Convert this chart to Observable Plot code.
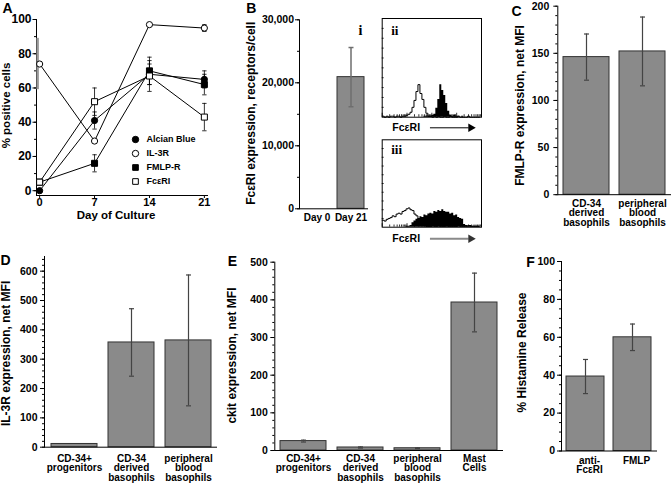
<!DOCTYPE html>
<html><head><meta charset="utf-8">
<script src="https://cdn.jsdelivr.net/npm/d3@7"></script>
<script src="https://cdn.jsdelivr.net/npm/@observablehq/plot@0.6"></script>
<style>
html,body{margin:0;padding:0;background:#fff;}
#fig{position:relative;width:672px;height:486px;overflow:hidden;background:#fff;}
#fig svg{position:absolute;}
</style></head><body><div id="fig"></div>
<script>
// ---------- Panel A data ----------
const cultureDays = [0, 7, 14, 21];
const seriesNames = ["Alcian Blue", "IL-3R", "FMLP-R", "FcεRI"];
const alcianBluePct = [0, 41, 68, 65];
const alcianBlueErr = [0, 5, 6, 5];
const il3rPct = [74, 29, 97, 95];
const il3rPctErr = [15, 0, 0, 2];
const fmlprPct = [5, 16, 70, 62];
const fmlprPctErr = [0, 5, 8, 6];
const fceriPct = [5, 52, 67, 43];
const fceriPctErr = [0, 8, 9, 8];
const dayTicks = [0, 7, 14, 21];
const pctTicks = [0, 20, 40, 60, 80, 100];

// ---------- Panel B data ----------
const receptorDays = ["Day 0", "Day 21"];
const receptorsPerCell = [0, 20900];
const receptorsErr = [0, 4700];
const receptorTicks = [0, 10000, 20000, 30000];

// flow histograms (ii, iii): event counts per channel bin, % of panel height
const histIIOpen = [1,0,1,0,1,1,0,1,1,0,1,1,2,3,5,10,17,26,33,24,18,10,4,1,1,0,1,0,1,0,0,1,0,0,1,0,0,0,1,0,0,0,0,1,0,0,0,0,0,0];
const histIIFilled = [0,0,0,0,0,0,0,0,0,0,0,0,0,0,0,0,0,0,0,0,0,1,1,1,1,2,3,9,18,33,27,22,14,6,2,1,2,1,1,0,1,0,0,0,0,0,0,0,0,0];
const histIIIOpen = [8,7,9,10,11,13,12,15,16,15,18,19,21,22,20,19,15,13,9,6,3,2,1,1,1,2,1,1,2,1,1,1,2,1,1,1,1,1,2,1,1,1,1,2,1,1,1,1,1,1];
const histIIIFilled = [0,0,0,0,0,0,0,0,0,0,0,0,1,1,2,5,7,9,10,12,11,14,13,15,16,15,18,17,19,18,20,18,17,17,15,16,13,14,11,10,9,3,2,1,2,1,1,1,1,0];

// ---------- Panel C data ----------
const fmlpCategories = ["CD-34\nderived\nbasophils", "peripheral\nblood\nbasophils"];
const fmlpMfi = [146, 152];
const fmlpMfiErr = [24.5, 36.5];

// ---------- Panel D data ----------
const il3rCategories = ["CD-34+\nprogenitors", "CD-34\nderived\nbasophils", "peripheral\nblood\nbasophils"];
const il3rMfi = [11, 357, 364];
const il3rMfiErr = [0, 115, 223];

// ---------- Panel E data ----------
const ckitCategories = ["CD-34+\nprogenitors", "CD-34\nderived\nbasophils", "peripheral\nblood\nbasophils", "Mast\nCells"];
const ckitMfi = [25, 8, 6, 393];
const ckitMfiErr = [2.5, 1.5, 1, 78];

// ---------- Panel F data ----------
const histamineCategories = ["anti-\nFcεRI", "FMLP"];
const histamineRelease = [39.3, 60];
const histamineErr = [9, 7];

// ---------- helpers ----------
const FONT = '"Liberation Sans", Arial, Helvetica, sans-serif';
const SERIF = '"Liberation Serif", "Times New Roman", serif';
const BAR_FILL = "#8a8a8a", BAR_STROKE = "#333";
const baseStyle = {fontFamily: FONT, fontSize: "10.5px", color: "black", background: "transparent", overflow: "visible"};
const capSymbol = {draw(ctx, size) { const w = Math.sqrt(size / Math.PI); ctx.moveTo(-w, 0); ctx.lineTo(w, 0); }};
const fig = document.getElementById("fig");
function place(svg, left, top) { svg.style.left = left + "px"; svg.style.top = top + "px"; fig.appendChild(svg); }
function capsOf(rows) { return rows.flatMap(d => [{...d, cy: d.lo}, {...d, cy: d.hi}]); }
const range = (a, b, s) => d3.range(a, b + s / 2, s);

function letterMark(letter, x, y, ml, mt) {
  return Plot.text([letter], {text: d => d, frameAnchor: "top-left", dx: x - ml, dy: y - mt, fontSize: 14, fontWeight: "bold", textAnchor: "middle", lineAnchor: "middle"});
}
function yLabelMark(label, dx, dy, size = 12) {
  return Plot.text([label], {text: d => d, frameAnchor: "left", rotate: -90, dx, dy, fontSize: size, fontWeight: "bold", textAnchor: "middle", lineAnchor: "middle"});
}

function barPanel(o) {
  const rows = o.cats.map((c, i) => ({c, v: o.values[i], e: o.errs[i], lo: o.values[i] - o.errs[i], hi: o.values[i] + o.errs[i]}));
  const errRows = rows.filter(d => d.e > 0);
  return Plot.plot({
    width: o.width, height: o.height, marginLeft: o.ml, marginRight: o.mr, marginTop: o.mt, marginBottom: o.mb,
    style: baseStyle,
    x: {type: "band", domain: o.cats, paddingInner: o.pi, paddingOuter: o.po, axis: null},
    y: {domain: o.yDomain, axis: null},
    marks: [
      Plot.barY(rows.filter(d => d.v > 0), {x: "c", y: "v", fill: BAR_FILL, stroke: BAR_STROKE, strokeWidth: 1}),
      Plot.ruleX(errRows, {x: "c", y1: "lo", y2: "hi", stroke: o.errColor || "#444", strokeWidth: o.errWidth || 1.2}),
      Plot.dot(capsOf(errRows), {x: "c", y: "cy", symbol: capSymbol, r: 2.5, stroke: o.errColor || "#444", fill: "none", strokeWidth: o.errWidth || 1.2}),
      Plot.axisY({ticks: o.minor, tickSize: 2, tickFormat: () => "", label: null}),
      Plot.axisY({ticks: o.major, tickSize: 4, tickPadding: o.tp || 3, label: null, fontSize: 10.5, fontWeight: "bold", tickFormat: o.fmt || (d => String(d))}),
      Plot.axisX({tickSize: 0, tickPadding: o.catPad, label: null, lineHeight: o.lh || 0.95, fontSize: 10, fontWeight: "bold", dx: o.catDx || 0}),
      Plot.frame({anchor: "left"}),
      Plot.ruleY([o.yDomain[0]]),
      yLabelMark(o.yLabel, o.ldx, o.ldy),
      letterMark(o.letter, o.lx, o.ly, o.ml, o.mt),
      ...(o.extra || [])
    ]
  });
}

function histPanel(o) {
  const bins = o.open.map((v, i) => ({bin: i, open: v, filled: o.filled[i]}));
  const logTicks = d3.range(0, 4).flatMap(dec => d3.range(1, 10).map(k => ({x: (dec + Math.log10(k)) * 12.5, len: k === 1 ? 4 : 2.5})));
  return Plot.plot({
    width: o.width, height: o.height, marginLeft: o.ml, marginRight: o.mr, marginTop: o.mt, marginBottom: o.mb,
    style: baseStyle,
    x: {domain: [0, 50], axis: null},
    y: {domain: [0, 100], axis: null},
    marks: [
      Plot.areaY(bins, {x: "bin", y: "filled", curve: "step-after", fill: "black"}),
      Plot.lineY(bins, {x: "bin", y: "open", curve: "step-after", stroke: "black", strokeWidth: 1}),
      Plot.ruleY(d3.range(10, 100, 10), {y: d => d, x1: 0, x2: 1, stroke: "black", strokeWidth: 0.8}),
      Plot.ruleX(logTicks, {x: "x", y1: 0, y2: "len", stroke: "black", strokeWidth: 0.8}),
      Plot.frame({stroke: "black", strokeWidth: 1}),
      Plot.text([o.roman], {text: d => d, frameAnchor: "top-left", dx: 9, dy: o.romanDy, fontFamily: SERIF, fontSize: 13, fontWeight: "bold", textAnchor: "start", lineAnchor: "top"}),
      Plot.text(["FcεRI"], {text: d => d, frameAnchor: "bottom-left", dx: 24, dy: o.labelDy, fontSize: 10.5, fontWeight: "bold", textAnchor: "middle", lineAnchor: "middle"}),
      Plot.ruleY([0], {x1: 24.3, x2: 43.8, dy: o.labelDy, stroke: o.arrowColor, strokeWidth: o.arrowWidth}),
      Plot.dot([0], {x: 44.6, y: 0, dy: o.labelDy, symbol: "triangle", rotate: 90, r: 3.2, fill: o.arrowColor === "black" ? "black" : "#333", stroke: "none"})
    ]
  });
}

// ---------- Panel A ----------
const seriesData = {"Alcian Blue": [alcianBluePct, alcianBlueErr], "IL-3R": [il3rPct, il3rPctErr], "FMLP-R": [fmlprPct, fmlprPctErr], "FcεRI": [fceriPct, fceriPctErr]};
const symbolStyle = {"Alcian Blue": ["circle", "black"], "IL-3R": ["circle", "white"], "FMLP-R": ["square", "black"], "FcεRI": ["square", "white"]};
const drawOrder = ["Alcian Blue", "FMLP-R", "IL-3R", "FcεRI"];
const rowsA = seriesNames.flatMap(s => cultureDays.map((day, i) => ({series: s, day, v: seriesData[s][0][i], e: seriesData[s][1][i]})));
const errA = rowsA.filter(d => d.e > 0).map(d => ({...d, lo: d.v - d.e, hi: d.v + d.e}));
const errWide = errA.filter(d => d.series === "IL-3R" && d.day === 0);
const errThin = errA.filter(d => !(d.series === "IL-3R" && d.day === 0));

const plotA = Plot.plot({
  width: 225, height: 240, marginLeft: 36, marginRight: 18, marginTop: 19, marginBottom: 45,
  style: baseStyle,
  x: {domain: [-0.4, 21.4], axis: null},
  y: {domain: [-2.8, 100], axis: null},
  marks: [
    Plot.axisY({ticks: range(0, 100, 10), tickSize: 2, tickFormat: () => "", label: null}),
    Plot.axisY({ticks: pctTicks, tickSize: 3.5, tickPadding: 1.5, label: null, fontSize: 12, fontWeight: "bold"}),
    Plot.axisX({ticks: dayTicks, tickSize: 3, tickPadding: 0, label: null, fontSize: 11, fontWeight: "bold"}),
    Plot.frame({anchor: "left"}),
    Plot.frame({anchor: "bottom"}),
    Plot.line(rowsA, {x: "day", y: "v", z: "series", stroke: "black", strokeWidth: 1}),
    Plot.ruleX(errWide, {x: "day", y1: "lo", y2: "hi", stroke: "#999", strokeWidth: 2.5, dx: -2}),
    Plot.ruleX(errThin, {x: "day", y1: "lo", y2: "hi", stroke: "black", strokeWidth: 0.8}),
    Plot.dot(capsOf(errThin), {x: "day", y: "cy", symbol: capSymbol, r: 2.2, stroke: "black", fill: "none", strokeWidth: 0.8}),
    ...drawOrder.map(s => Plot.dot(rowsA.filter(d => d.series === s), {x: "day", y: "v", symbol: symbolStyle[s][0], fill: symbolStyle[s][1], stroke: "black", strokeWidth: 1, r: symbolStyle[s][0] === "circle" ? 3.1 : 3.4})),
    yLabelMark("% positive cells", -30, -2, 11.5),
    Plot.text(["Day of Culture"], {text: d => d, frameAnchor: "bottom", dx: -6, dy: 20, fontSize: 11.5, fontWeight: "bold", textAnchor: "middle", lineAnchor: "middle"}),
    letterMark("A", 7, 8, 36, 19)
  ]
});
place(plotA, 0, 0);

const legendA = Plot.plot({
  width: 75, height: 62, marginTop: 8, marginBottom: 10, marginLeft: 7, marginRight: 0,
  style: baseStyle,
  y: {type: "point", domain: seriesNames, padding: 0, axis: null},
  marks: [
    ...seriesNames.map(s => Plot.dot([s], {y: d => d, frameAnchor: "left", symbol: symbolStyle[s][0], fill: symbolStyle[s][1], stroke: "black", strokeWidth: 1, r: 3.2})),
    Plot.text(seriesNames, {y: d => d, text: d => d, frameAnchor: "left", dx: 11, textAnchor: "start", lineAnchor: "middle", fontSize: 9, fontWeight: "bold"})
  ]
});
place(legendA, 128, 130);

// ---------- Panel B ----------
const plotB = barPanel({
  cats: receptorDays, values: receptorsPerCell, errs: receptorsErr,
  width: 150, height: 240, ml: 74, mr: 7, mt: 19.3, mb: 31.7, pi: 0.2, po: 0.086,
  yDomain: [0, 30000], major: receptorTicks, minor: range(0, 30000, 5000), fmt: d3.format(","), tp: 1.5,
  catPad: 5.1, errColor: "#6e6e6e", errWidth: 1.5,
  yLabel: "FcεRI expression, receptors/cell", ldx: -48, ldy: -1, letter: "B", lx: 25.7, ly: 8,
  extra: [Plot.text(["i"], {text: d => d, frameAnchor: "top-left", dx: 135 - 74, dy: 30 - 19.3, fontFamily: SERIF, fontSize: 14, fontWeight: "bold", textAnchor: "middle", lineAnchor: "middle"})]
});
place(plotB, 225, 0);

// ---------- Histograms ----------
const plotII = histPanel({open: histIIOpen, filled: histIIFilled, roman: "ii", width: 110, height: 135, ml: 6.7, mr: 4, mt: 18, mb: 18.3, romanDy: 7, labelDy: 10.6, arrowColor: "black", arrowWidth: 1});
place(plotII, 375, 0);
const plotIII = histPanel({open: histIIIOpen, filled: histIIIFilled, roman: "iii", width: 110, height: 112, ml: 6.7, mr: 4, mt: 9.3, mb: 15.3, romanDy: 5, labelDy: 11.6, arrowColor: "#8a8a8a", arrowWidth: 2});
place(plotIII, 375, 130);

// ---------- Panel C ----------
const plotC = barPanel({
  cats: fmlpCategories, values: fmlpMfi, errs: fmlpMfiErr,
  width: 182, height: 240, ml: 67.3, mr: 1, mt: 5.7, mb: 45.8, pi: 0.18, po: 0.1,
  yDomain: [0, 200], major: range(0, 200, 50), minor: range(0, 200, 10), tp: 4.5,
  catPad: 5.5, lh: 0.95,
  yLabel: "FMLP-R expression, net MFI", ldx: -37.3, ldy: 5, letter: "C", lx: 26, ly: 11
});
place(plotC, 490, 0);

// ---------- Panel D ----------
const plotD = barPanel({
  cats: il3rCategories, values: il3rMfi, errs: il3rMfiErr,
  width: 225, height: 246, ml: 44, mr: 8, mt: 16, mb: 39.3, pi: 0.2, po: 0.1,
  yDomain: [0, 650], major: range(0, 600, 100), minor: range(0, 640, 20),
  catPad: 7.6,
  yLabel: "IL-3R expression, net MFI", ldx: -38, ldy: 1.6, letter: "D", lx: 5, ly: 20
});
place(plotD, 0, 240);

// ---------- Panel E ----------
const plotE = barPanel({
  cats: ckitCategories, values: ckitMfi, errs: ckitMfiErr,
  width: 285, height: 246, ml: 49.3, mr: 7, mt: 21.7, mb: 36, pi: 0.2, po: 0.1,
  yDomain: [0, 500], major: range(0, 500, 100), minor: range(0, 500, 20),
  catPad: 4.6,
  yLabel: "ckit expression, net MFI", ldx: -42.3, ldy: -0.8, letter: "E", lx: 7, ly: 21
});
place(plotE, 225, 240);

// ---------- Panel F ----------
const plotF = barPanel({
  cats: histamineCategories, values: histamineRelease, errs: histamineErr,
  width: 162, height: 246, ml: 51, mr: 15, mt: 21, mb: 35.5, pi: 0.185, po: 0.1,
  yDomain: [0, 100], major: range(0, 100, 20), minor: range(0, 100, 5), tp: 2.5,
  catPad: 5.9, catDx: 4,
  yLabel: "% Histamine Release", ldx: -39.3, ldy: -3.7, letter: "F", lx: 20, ly: 21.7
});
place(plotF, 510, 240);
</script>
</body></html>
